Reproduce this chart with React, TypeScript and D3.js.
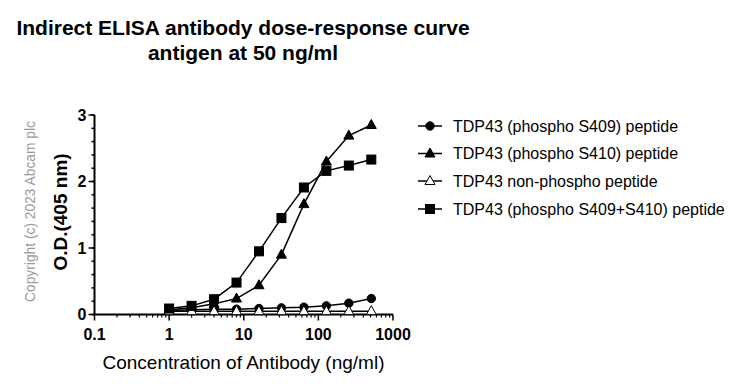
import React, { useRef, useEffect } from 'react';
import * as d3 from 'd3';

const concentrations = [1, 2, 4, 8, 16, 32, 64, 128, 256, 512];
const s409 = [0.06, 0.07, 0.08, 0.08, 0.09, 0.1, 0.11, 0.13, 0.17, 0.24];
const s410 = [0.07, 0.1, 0.16, 0.24, 0.44, 0.9, 1.66, 2.3, 2.69, 2.85];
const nonPhospho = [0.05, 0.05, 0.05, 0.05, 0.05, 0.05, 0.05, 0.05, 0.05, 0.05];
const s409s410 = [0.09, 0.13, 0.23, 0.48, 0.95, 1.45, 1.91, 2.16, 2.24, 2.33];

const seriesNames = [
  'TDP43 (phospho S409) peptide',
  'TDP43 (phospho S410) peptide',
  'TDP43 non-phospho peptide',
  'TDP43 (phospho S409+S410) peptide',
];
const xTicks = [0.1, 1, 10, 100, 1000];
const yTicks = [0, 1, 2, 3];

const App = () => {
  const ref = useRef<SVGSVGElement>(null);

  useEffect(() => {
    const svg = d3.select(ref.current);
    svg.selectAll('*').remove();
    const font = 'Arial, "Liberation Sans", sans-serif';

    const x = d3.scaleLog().domain([0.1, 1000]).range([94.5, 393]);
    const y = d3.scaleLinear().domain([0, 3]).range([314.5, 115]);

    const series = [
      { name: seriesNames[0], values: s409, shape: 'circle', fill: '#000' },
      { name: seriesNames[1], values: s410, shape: 'triangle', fill: '#000' },
      { name: seriesNames[2], values: nonPhospho, shape: 'triangle', fill: '#fff' },
      { name: seriesNames[3], values: s409s410, shape: 'square', fill: '#000' },
    ];

    // title
    const title = svg.append('text')
      .attr('text-anchor', 'middle')
      .attr('font-family', font)
      .attr('font-weight', 'bold')
      .attr('font-size', 21);
    title.append('tspan').attr('x', 243).attr('y', 35).text('Indirect ELISA antibody dose-response curve');
    title.append('tspan').attr('x', 243).attr('y', 60).text('antigen at 50 ng/ml');

    // copyright
    svg.append('text')
      .attr('transform', 'translate(35,211.5) rotate(-90)')
      .attr('text-anchor', 'middle')
      .attr('font-family', font)
      .attr('font-size', 13.8)
      .attr('fill', '#999')
      .text('Copyright (c) 2023 Abcam plc');

    // y label
    svg.append('text')
      .attr('transform', 'translate(67,212) rotate(-90)')
      .attr('text-anchor', 'middle')
      .attr('font-family', font)
      .attr('font-weight', 'bold')
      .attr('font-size', 19)
      .text('O.D.(405 nm)');

    // x label
    svg.append('text')
      .attr('x', 243.5)
      .attr('y', 369)
      .attr('text-anchor', 'middle')
      .attr('font-family', font)
      .attr('font-size', 19)
      .text('Concentration of Antibody (ng/ml)');

    // y axis
    const yMinor = d3.range(0, 3.001, 0.2);
    const yAxis = svg.append('g').attr('transform', `translate(${x(0.1)},0)`);
    yAxis.append('line').attr('y1', y(0)).attr('y2', y(3)).attr('stroke', '#000').attr('stroke-width', 2);
    yAxis.selectAll('.minor').data(yMinor).enter().append('line')
      .attr('x1', 0).attr('x2', -3).attr('y1', d => y(d)).attr('y2', d => y(d))
      .attr('stroke', '#000').attr('stroke-width', 1.5);
    yAxis.selectAll('.major').data(yTicks).enter().append('line')
      .attr('x1', 0).attr('x2', -6).attr('y1', d => y(d)).attr('y2', d => y(d))
      .attr('stroke', '#000').attr('stroke-width', 1.5);
    yAxis.selectAll('.lbl').data(yTicks).enter().append('text')
      .attr('x', -8).attr('y', d => y(d)).attr('dy', '0.36em')
      .attr('text-anchor', 'end')
      .attr('font-family', font).attr('font-weight', 'bold').attr('font-size', 16)
      .text(d => d);

    // x axis
    const xMinor: number[] = [];
    [0.1, 1, 10, 100].forEach(dec => { for (let k = 2; k <= 9; k++) xMinor.push(dec * k); });
    const xAxis = svg.append('g').attr('transform', `translate(0,${y(0)})`);
    xAxis.append('line').attr('x1', x(0.1) - 1).attr('x2', x(1000)).attr('stroke', '#000').attr('stroke-width', 2);
    xAxis.selectAll('.minor').data(xMinor).enter().append('line')
      .attr('x1', d => x(d)).attr('x2', d => x(d)).attr('y1', 0).attr('y2', 3)
      .attr('stroke', '#000').attr('stroke-width', 1.2);
    xAxis.selectAll('.major').data(xTicks).enter().append('line')
      .attr('x1', d => x(d)).attr('x2', d => x(d)).attr('y1', 0).attr('y2', 6)
      .attr('stroke', '#000').attr('stroke-width', 1.5);
    xAxis.selectAll('.lbl').data(xTicks).enter().append('text')
      .attr('x', d => x(d)).attr('y', 25.5)
      .attr('text-anchor', 'middle')
      .attr('font-family', font).attr('font-weight', 'bold').attr('font-size', 16)
      .text(d => String(d));

    const marker = (g: d3.Selection<SVGGElement, unknown, null, undefined>, shape: string, fill: string, cx: number, cy: number) => {
      if (shape === 'circle') {
        g.append('circle').attr('cx', cx).attr('cy', cy).attr('r', 4.2).attr('fill', fill).attr('stroke', '#000').attr('stroke-width', 1);
      } else if (shape === 'square') {
        g.append('rect').attr('x', cx - 4.5).attr('y', cy - 4.5).attr('width', 9).attr('height', 9).attr('fill', fill).attr('stroke', '#000').attr('stroke-width', 1);
      } else {
        g.append('path').attr('d', `M${cx},${cy - 5.5}L${cx + 5},${cy + 3.5}L${cx - 5},${cy + 3.5}Z`).attr('fill', fill).attr('stroke', '#000').attr('stroke-width', 1);
      }
    };

    const line = d3.line<number>().x((_, i) => x(concentrations[i])).y(d => y(d));
    const plot = svg.append('g');
    series.forEach(s => {
      plot.append('path').attr('d', line(s.values)).attr('fill', 'none').attr('stroke', '#000').attr('stroke-width', 1.5);
    });
    series.forEach(s => {
      const g = plot.append('g');
      s.values.forEach((v, i) => marker(g as any, s.shape, s.fill, x(concentrations[i]), y(v)));
    });

    // legend
    const rowY = [126, 153.5, 181, 209];
    const legend = svg.append('g');
    series.forEach((s, i) => {
      const g = legend.append('g');
      g.append('line').attr('x1', 418).attr('x2', 442).attr('y1', rowY[i]).attr('y2', rowY[i]).attr('stroke', '#000').attr('stroke-width', 1.5);
      marker(g as any, s.shape, s.fill, 430, rowY[i]);
      g.append('text').attr('x', 453).attr('y', rowY[i]).attr('dy', '0.35em')
        .attr('font-family', font).attr('font-size', 16).text(s.name);
    });
  }, []);

  return <svg ref={ref} width={744} height={386} style={{ display: 'block', position: 'absolute', left: 0, top: 0 }} />;
};

export default App;
